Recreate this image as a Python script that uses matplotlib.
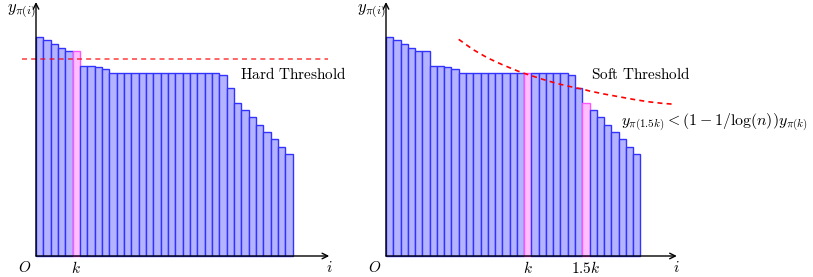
import numpy as np
import matplotlib
matplotlib.use('Agg')
import matplotlib.pyplot as plt

plt.rcParams['mathtext.fontset'] = 'cm'

# bar heights y_pi(i), sorted
heights = [6.58, 6.47, 6.36, 6.25, 6.14, 6.14, 5.69, 5.69, 5.66, 5.62,
           5.48, 5.48, 5.48, 5.48, 5.48, 5.48, 5.48, 5.48, 5.48, 5.48,
           5.48, 5.48, 5.48, 5.48, 5.48, 5.43, 5.03, 4.60, 4.38, 4.16,
           3.94, 3.72, 3.50, 3.28, 3.06]
hard_k = 5            # highlighted bar in left panel
soft_k = [19, 27]     # highlighted bars in right panel (k and 1.5k)
hard_level = 5.92
curve_x = [10, 12, 14, 16, 18, 19, 20, 22, 24, 26, 27, 28, 30, 32, 34, 36, 38, 39.8]
curve_y = [6.50, 6.19, 5.94, 5.74, 5.56, 5.48, 5.41, 5.27, 5.15, 5.05, 5.01,
           4.95, 4.86, 4.78, 4.70, 4.63, 4.58, 4.55]

W, H = 813, 277
fig = plt.figure(figsize=(W/100, H/100), dpi=100)

blue_fc, blue_ec = '#b3b3ff', '#3333ff'
pink_fc, pink_ec = '#ffbfff', '#ff55ff'

def make_axes(px0, px1, yaxis_px, bw):
    ax = fig.add_axes([px0/W, 0, (px1-px0)/W, 1])
    ax.set_xlim((px0-yaxis_px)/bw, (px1-yaxis_px)/bw)
    ax.set_ylim(-21/33.33, 256/33.33)
    ax.axis('off')
    return ax

def draw_panel(ax, pink):
    xs = np.arange(len(heights))
    fc = [pink_fc if i in pink else blue_fc for i in xs]
    ec = [pink_ec if i in pink else blue_ec for i in xs]
    ax.bar(xs, heights, width=1.0, align='edge', color=fc, edgecolor=ec, linewidth=1.0, zorder=2)
    ax.annotate('', xy=(40.0, 0), xytext=(0, 0),
                arrowprops=dict(arrowstyle='->', lw=1.0, color='black', shrinkA=0, shrinkB=0), zorder=4)
    ax.annotate('', xy=(0, 7.62), xytext=(0, 0),
                arrowprops=dict(arrowstyle='->', lw=1.0, color='black', shrinkA=0, shrinkB=0), zorder=4)
    ax.text(-1.6, -0.36, '$O$', fontsize=11, ha='center', va='center')
    ax.text(40.0, -0.36, '$i$', fontsize=11, ha='center', va='center')
    ax.text(-1.95, 7.34, r'$y_{\pi(i)}$', fontsize=12, ha='center', va='center')

# left panel: hard threshold
ax1 = make_axes(0, 350, 36, 7.33)
draw_panel(ax1, [hard_k])
ax1.plot([-1.95, 39.8], [hard_level, hard_level], color='red', alpha=0.7, lw=1.2,
         linestyle=(0, (3, 2.5)), zorder=3)
ax1.text(hard_k + 0.5, -0.36, '$k$', fontsize=11, ha='center', va='center')
ax1.text(27.8, 5.46, r'$\mathrm{Hard\ Threshold}$', fontsize=11, ha='left', va='center')

# right panel: soft threshold
ax2 = make_axes(350, 813, 386, 7.27)
draw_panel(ax2, soft_k)
ax2.plot(curve_x, curve_y, color='red', lw=1.2, linestyle=(0, (3, 2.5)), zorder=3)
ax2.text(soft_k[0] + 0.5, -0.36, '$k$', fontsize=11, ha='center', va='center')
ax2.text(soft_k[1] + 0.5, -0.36, '$1.5k$', fontsize=11, ha='center', va='center')
ax2.text(28.2, 5.46, r'$\mathrm{Soft\ Threshold}$', fontsize=11, ha='left', va='center')
ax2.text(32.3, 3.99, r'$y_{\pi(1.5k)} < (1-1/\log(n))y_{\pi(k)}$', fontsize=11.4,
         ha='left', va='center')

fig.savefig('out.png', dpi=100)
